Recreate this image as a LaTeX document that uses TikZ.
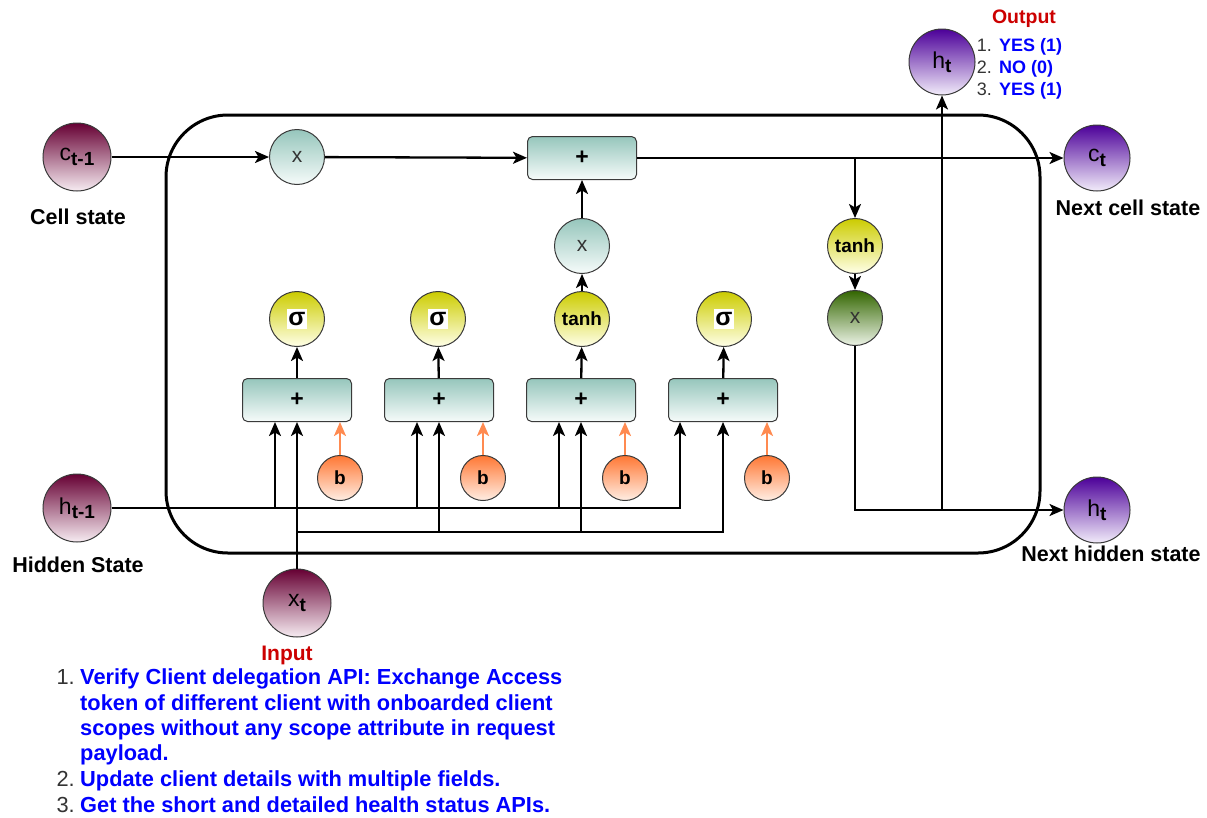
\documentclass[tikz,border=0pt]{standalone}
\usepackage{fontspec}
\setmainfont{Liberation Sans}
\usetikzlibrary{arrows.meta}
\definecolor{mtop}{HTML}{660033}
\definecolor{mbot}{HTML}{F7ECF2}
\definecolor{ptop}{HTML}{4C0099}
\definecolor{pbot}{HTML}{F2ECFA}
\definecolor{ttop}{HTML}{96C6BC}
\definecolor{tbot}{HTML}{F6FBFA}
\definecolor{ytop}{HTML}{CCCC00}
\definecolor{ybot}{HTML}{FFFFE8}
\definecolor{gtop}{HTML}{336600}
\definecolor{gbot}{HTML}{ECF3E6}
\definecolor{otop}{HTML}{FF7733}
\definecolor{obot}{HTML}{FFEEE4}
\definecolor{oarrow}{HTML}{FF8A50}
\definecolor{tblue}{HTML}{0000FF}
\definecolor{tred}{HTML}{CC0000}
\definecolor{tgray}{HTML}{333333}
\definecolor{bord}{HTML}{3A3A3A}
\tikzset{
  base/.style={draw=bord, line width=1pt, inner sep=0pt},
  mcirc/.style={base, circle, minimum size=68pt, top color=mtop, bottom color=mbot},
  pcirc/.style={base, circle, minimum size=66pt, top color=ptop, bottom color=pbot},
  tcirc/.style={base, circle, minimum size=55pt, top color=ttop, bottom color=tbot, text=tgray, font=\fontsize{21}{21}\selectfont},
  ycirc/.style={base, circle, minimum size=55pt, top color=ytop, bottom color=ybot, font=\fontsize{19}{19}\selectfont\bfseries},
  gcirc/.style={base, circle, minimum size=55pt, top color=gtop, bottom color=gbot, text=tgray, font=\fontsize{21}{21}\selectfont},
  ocirc/.style={base, circle, minimum size=45pt, top color=otop, bottom color=obot, font=\fontsize{19}{19}\selectfont\bfseries},
  sumbox/.style={base, rectangle, rounded corners=5pt, minimum width=109pt, minimum height=43pt, top color=ttop, bottom color=tbot, font=\fontsize{23}{23}\selectfont\bfseries},
  wire/.style={line width=2.3pt, black},
  arr/.style={wire, -{Stealth[length=14pt,width=12pt,inset=3.5pt]}},
  oarr/.style={line width=2.3pt, oarrow, -{Stealth[length=14pt,width=12pt,inset=3.5pt]}},
  lbl/.style={font=\fontsize{21.5}{21.5}\selectfont\bfseries, inner sep=0pt, anchor=base},
  item/.style={font=\fontsize{21.8}{21.8}\selectfont\bfseries, text=tblue, inner sep=0pt, anchor=base west},
  num/.style={font=\fontsize{21.8}{21.8}\selectfont, text=tgray, inner sep=0pt, anchor=base east},
  oitem/.style={font=\fontsize{18}{18}\selectfont\bfseries, text=tblue, inner sep=0pt, anchor=base west},
  onum/.style={font=\fontsize{18}{18}\selectfont, text=tgray, inner sep=0pt, anchor=base east},
}
\newcommand{\sg}{\colorbox{white}{\kern-2pt\fontsize{25}{25}\selectfont\bfseries σ\kern-2pt}}
\newcommand{\var}[2]{{\fontsize{23}{23}\selectfont #1\raisebox{-0.35ex}{\fontsize{19}{19}\selectfont\bfseries #2}}}
\begin{document}
\begin{tikzpicture}[x=1pt,y=-1pt]
\useasboundingbox (0,0) rectangle (1207,817);
% main cell
\draw[line width=3pt, rounded corners=62pt] (166,115) rectangle (1040,553);

% nodes
\node[mcirc] (ctm1) at (77,157) {\var{c}{t-1}};
\node[lbl] (ctm1l) at (78,224) {Cell state};
\node[mcirc] (htm1) at (77,508) {\var{h}{t-1}};
\node[lbl] (htm1l) at (78,572) {Hidden State};
\node[mcirc] (xt) at (297,603) {\var{x}{t}};
\node[lbl, text=tred, font=\fontsize{21}{21}\selectfont\bfseries] (inl) at (287,660) {Input};

\node[tcirc] (fx) at (297,157) {x};
\node[sumbox] (addc) at (582,158) {+};
\node[pcirc] (ct) at (1097,158) {\var{c}{t}};
\node[lbl] (ctl) at (1128,215) {Next cell state};
\node[ycirc] (tanhc) at (855,246) {tanh};
\node[gcirc] (ox) at (855,318) {x};
\node[pcirc] (ht) at (1097,510) {\var{h}{t}};
\node[lbl] (htl) at (1111,561) {Next hidden state};
\node[pcirc] (hout) at (942,62) {\var{h}{t}};

\node[lbl, text=tred, font=\fontsize{19.5}{19.5}\selectfont\bfseries] (outl) at (1024,23) {Output};
\node[onum] (on1) at (992,51) {1.};
\node[oitem] (oi1) at (999,51) {YES (1)};
\node[onum] (on2) at (992,73) {2.};
\node[oitem] (oi2) at (999,73) {NO (0)};
\node[onum] (on3) at (992,95) {3.};
\node[oitem] (oi3) at (999,95) {YES (1)};

\node[tcirc] (ix) at (582,246) {x};
\node[ycirc] (g1) at (297,319) {\sg};
\node[ycirc] (g2) at (438,319) {\sg};
\node[ycirc] (g3) at (582,319) {tanh};
\node[ycirc] (g4) at (724,319) {\sg};

\node[sumbox] (b1) at (297,400) {+};
\node[sumbox] (b2) at (439,400) {+};
\node[sumbox] (b3) at (581,400) {+};
\node[sumbox] (b4) at (723,400) {+};

\node[ocirc] (bb1) at (340,478) {b};
\node[ocirc] (bb2) at (483,478) {b};
\node[ocirc] (bb3) at (625,478) {b};
\node[ocirc] (bb4) at (767,478) {b};

% cell state path
\draw[arr] (ctm1) -- (fx);
\draw[arr] (fx) -- (addc);
\draw[arr] (addc.east) -- (ct.west);
\draw[arr] (tanhc.north |- addc.east) -- (tanhc.north);
\draw[arr] (tanhc) -- (ox);
\draw[arr] (ox.south) |- (ht.west);
\draw[arr] (hout.south |- ht.west) -- (hout.south);
\draw[arr] (ix) -- (addc);
\draw[arr] (g3) -- (ix);

% gates
\foreach \i in {1,2,3,4}{
  \draw[arr] (b\i) -- (g\i);
  \draw[oarr] (bb\i.north) -- (bb\i.north |- b\i.south);
}

% hidden state wires
\draw[arr] (htm1.east) -| ([xshift=-43pt]b4.south);
\foreach \i in {1,2,3}{
  \draw[arr] ([xshift=-22pt]b\i.south |- htm1.east) -- ([xshift=-22pt]b\i.south);
}
% input wires
\draw[arr] (xt.north) -- (b1.south);
\coordinate (xj) at (297,532);
\draw[arr] (xj) -| (b4.south);
\draw[arr] (b2.south |- xj) -- (b2.south);
\draw[arr] (b3.south |- xj) -- (b3.south);

% input list
\node[num] (n1) at (75,684) {1.};
\node[item] (i1) at (80,684) {Verify Client delegation API: Exchange Access};
\node[item] (i1b) at (80,710) {token of different client with onboarded client};
\node[item] (i1c) at (80,735) {scopes without any scope attribute in request};
\node[item] (i1d) at (80,760) {payload.};
\node[num] (n2) at (75,786) {2.};
\node[item] (i2) at (80,786) {Update client details with multiple fields.};
\node[num] (n3) at (75,812) {3.};
\node[item] (i3) at (80,812) {Get the short and detailed health status APIs.};
\end{tikzpicture}
\end{document}
